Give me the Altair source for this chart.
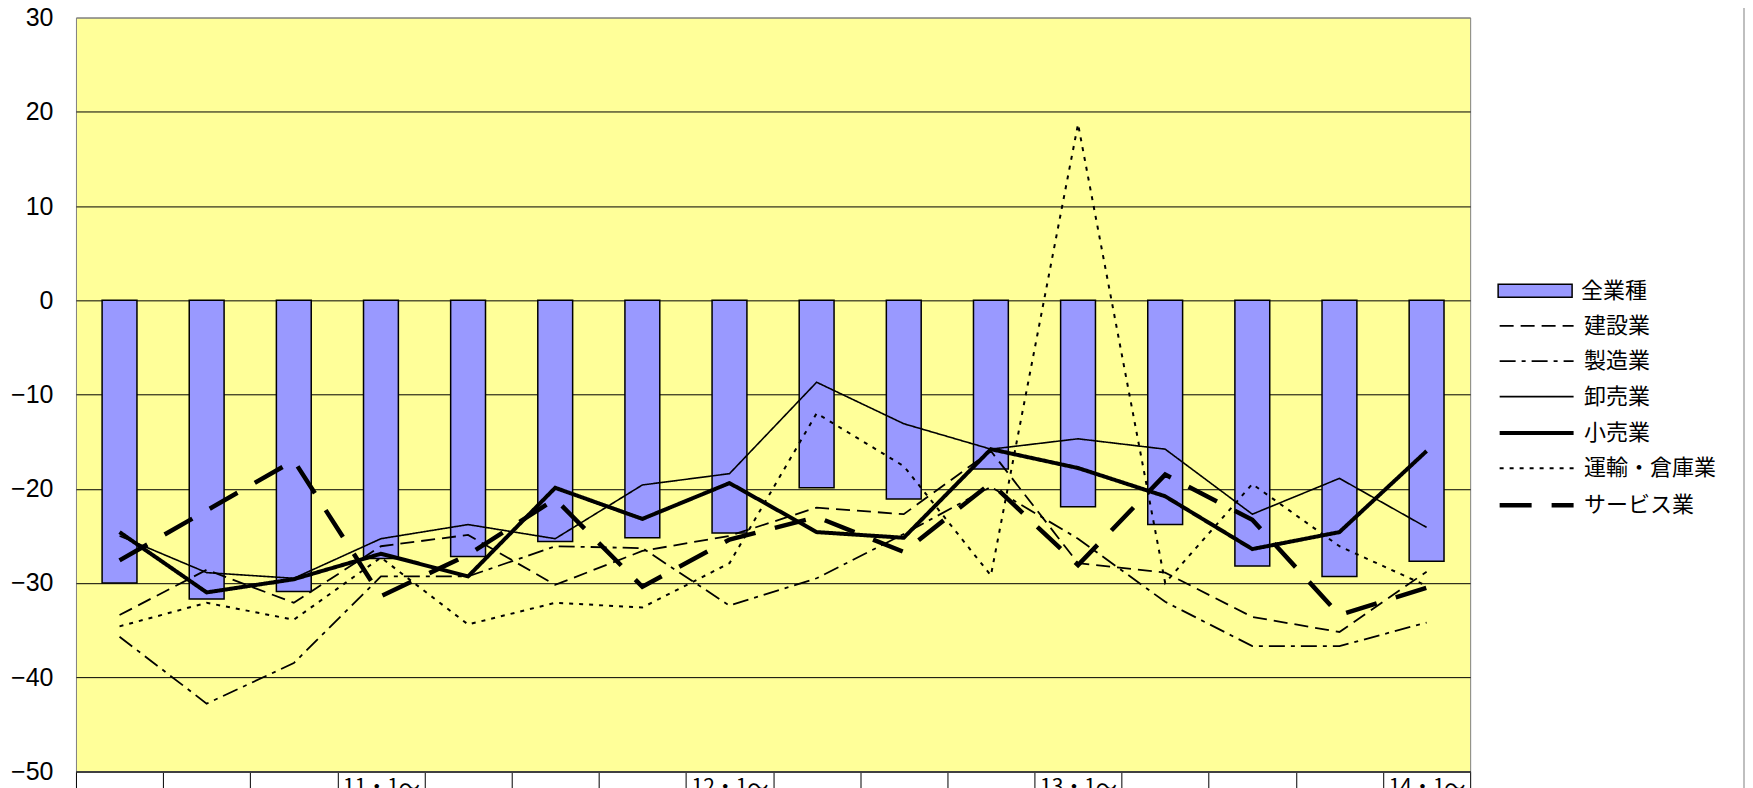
import altair as alt
import pandas as pd

# ---- data ----
x_labels = ["", "", "", "11・1～", "", "", "", "12・1～", "", "", "", "13・1～", "", "", "", "14・1～"]

all_industries = [-30.0, -31.7, -30.9, -27.4, -27.2, -25.6, -25.2, -24.7, -19.9, -21.1, -17.9, -21.9, -23.8, -28.2, -29.3, -27.7]
construction = [-33.4, -28.6, -32.1, -26.1, -24.9, -30.2, -26.6, -25.0, -22.0, -22.7, -16.0, -27.9, -28.9, -33.6, -35.2, -28.8]
manufacturing = [-35.7, -42.8, -38.5, -29.3, -29.3, -26.1, -26.3, -32.4, -29.5, -24.8, -19.8, -25.3, -32.0, -36.7, -36.7, -34.2]
wholesale = [-25.0, -28.9, -29.5, -25.3, -23.8, -25.3, -19.6, -18.4, -8.7, -13.1, -15.8, -14.7, -15.8, -22.7, -18.9, -24.1]
retail = [-24.6, -31.0, -29.6, -26.9, -29.3, -19.9, -23.2, -19.4, -24.6, -25.2, -15.8, -17.8, -20.8, -26.4, -24.6, -16.0]
transport = [-34.6, -32.1, -33.9, -27.3, -34.4, -32.1, -32.6, -27.9, -12.0, -17.6, -29.2, 18.7, -30.0, -19.5, -26.1, -30.3]
services = [-27.6, -22.3, -17.0, -31.4, -27.0, -21.1, -30.4, -25.4, -23.0, -26.7, -19.4, -28.1, -18.5, -23.3, -33.4, -30.5]

bar_name = "全業種"
line_names = ["建設業", "製造業", "卸売業", "小売業", "運輸・倉庫業", "サービス業"]
line_series = [construction, manufacturing, wholesale, retail, transport, services]

# styles (one per line series)
dash_styles = [[14, 7], [16, 6, 4, 6], [1, 0], [1, 0], [4, 6], [32, 20]]
width_styles = [1.8, 1.8, 1.6, 4.0, 2.0, 4.5]

# ---- tables ----
idx = list(range(len(x_labels)))
bar_df = pd.DataFrame({"idx": idx, "value": all_industries, "series": bar_name})
rows = []
for name, vals in zip(line_names, line_series):
    for i, v in zip(idx, vals):
        rows.append({"idx": i, "series": name, "value": v})
line_df = pd.DataFrame(rows)

label_expr = "[" + ",".join("'" + s + "'" for s in x_labels) + "][datum.value]"

x_enc = alt.X(
    "idx:O",
    title=None,
    scale=alt.Scale(paddingInner=0, paddingOuter=0),
    axis=alt.Axis(
        labelExpr=label_expr,
        labelAngle=0,
        labelFont="Noto Sans CJK JP",
        labelFontSize=21,
        labelColor="black",
        tickBand="extent",
        tickSize=60,
        tickColor="black",
        tickWidth=1,
        labelPadding=-55,
        domainColor="#404040",
        domainWidth=2,
        grid=False,
    ),
)
y_enc = alt.Y(
    "value:Q",
    title=None,
    scale=alt.Scale(domain=[-50, 30], nice=False, zero=True),
    axis=alt.Axis(
        values=list(range(-50, 31, 10)),
        labelFont="Liberation Sans",
        labelFontSize=25,
        labelColor="black",
        ticks=False,
        labelPadding=23,
        domain=False,
        grid=True,
        gridColor={"condition": {"test": "datum.value === 30", "value": "#808080"}, "value": "#000000"},
        gridWidth=1,
    ),
)

rect_path = "M-1,-0.65H6.4V0.65H-1Z"
line_path = "M-1,0H6.4"

common_legend = dict(
    title=None,
    orient="none",
    legendX=1422,
    labelFont="Noto Sans CJK JP",
    labelFontSize=22,
    labelColor="black",
    symbolSize=400,
    symbolStrokeColor="black",
    labelOffset=62,
    padding=0,
    labelLimit=300,
)

bars = alt.Chart(bar_df).mark_bar(
    width=alt.RelativeBandSize(0.4), stroke="black", strokeWidth=1.5
).encode(
    x=x_enc,
    y=y_enc,
    fill=alt.Fill(
        "series:N",
        scale=alt.Scale(domain=[bar_name], range=["#9999FF"]),
        legend=alt.Legend(legendY=262.5, symbolType=rect_path, symbolStrokeWidth=1.5, **common_legend),
    ),
)

line_legend = alt.Legend(legendY=297.5, symbolType=line_path, rowPadding=13.4, **common_legend)

lines = alt.Chart(line_df).mark_line(color="black").encode(
    x=x_enc,
    y=y_enc,
    strokeDash=alt.StrokeDash(
        "series:O", sort=line_names,
        scale=alt.Scale(domain=line_names, range=dash_styles), legend=line_legend,
    ),
    strokeWidth=alt.StrokeWidth(
        "series:O", sort=line_names,
        scale=alt.Scale(type="ordinal", domain=line_names, range=width_styles), legend=line_legend,
    ),
)

frame = alt.Chart(pd.DataFrame({"frame": [1]})).mark_rule(color="#808080", strokeWidth=1).encode(
    x=alt.value(1669), y=alt.value(-20), y2=alt.value(900)
)

chart = alt.layer(bars, lines, frame).properties(
    width=1395,
    height=754.4,
    autosize=alt.AutoSizeParams(type="none"),
    padding={"left": 68, "top": 9.3, "right": 275, "bottom": 40},
    background="white",
).configure_view(fill="#FFFF99", stroke="#808080", strokeWidth=1)

chart.save("out.html", embed_options={"renderer": "svg", "actions": False})
